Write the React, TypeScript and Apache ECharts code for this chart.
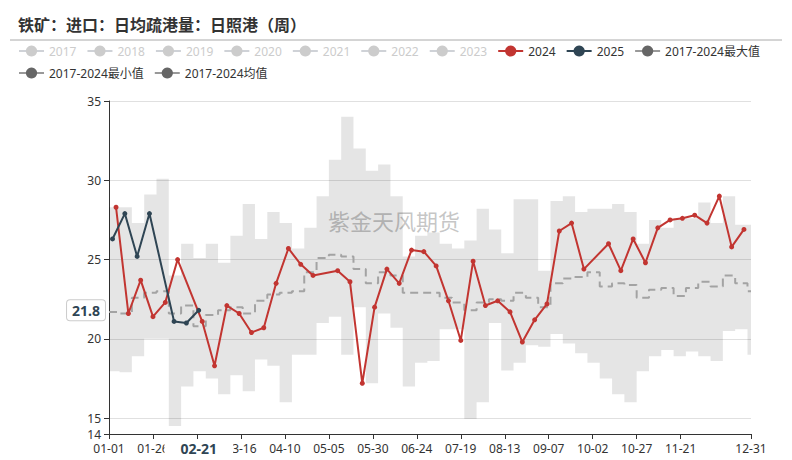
import React, { useEffect, useRef } from 'react';
import * as echarts from 'echarts';

// x-axis categories: every day of a leap year, MM-DD
const categories: string[] = [];
for (let d = 0; d < 366; d++) {
  const dt = new Date(Date.UTC(2024, 0, 1 + d));
  const mm = String(dt.getUTCMonth() + 1).padStart(2, '0');
  const dd = String(dt.getUTCDate()).padStart(2, '0');
  categories.push(`${mm}-${dd}`);
}

const hiddenYears = ['2017', '2018', '2019', '2020', '2021', '2022', '2023'];

const dates2024 = [
  '01-05', '01-12', '01-19', '01-26', '02-02', '02-09', '02-23', '03-01', '03-08', '03-15',
  '03-22', '03-29', '04-05', '04-12', '04-19', '04-26', '05-10', '05-17', '05-24', '05-31',
  '06-07', '06-14', '06-21', '06-28', '07-05', '07-12', '07-19', '07-26', '08-02', '08-09',
  '08-16', '08-23', '08-30', '09-06', '09-13', '09-20', '09-27', '10-11', '10-18', '10-25',
  '11-01', '11-08', '11-15', '11-22', '11-29', '12-06', '12-13', '12-20', '12-27',
];
const values2024 = [
  28.3, 21.6, 23.7, 21.4, 22.3, 25.0, 21.1, 18.3, 22.1, 21.6,
  20.4, 20.7, 23.5, 25.7, 24.7, 24.0, 24.3, 23.6, 17.2, 22.0,
  24.4, 23.5, 25.6, 25.5, 24.6, 22.4, 19.9, 24.9, 22.1, 22.4,
  21.7, 19.8, 21.2, 22.2, 26.8, 27.3, 24.4, 26.0, 24.3, 26.3,
  24.8, 27.0, 27.5, 27.6, 27.8, 27.3, 29.0, 25.8, 26.9,
];

const dates2025 = ['01-03', '01-10', '01-17', '01-24', '02-07', '02-14', '02-21'];
const values2025 = [26.3, 27.9, 25.2, 27.9, 21.1, 21.0, 21.8];

// 2017-2024 statistics (weekly steps)
const statDates = [
  '01-01', '01-07', '01-14', '01-21', '01-28', '02-04', '02-11', '02-18', '02-25', '03-03',
  '03-10', '03-17', '03-24', '03-31', '04-07', '04-14', '04-21', '04-28', '05-05', '05-12',
  '05-19', '05-26', '06-02', '06-09', '06-16', '06-23', '06-30', '07-07', '07-14', '07-21',
  '07-28', '08-04', '08-11', '08-18', '08-25', '09-01', '09-08', '09-15', '09-22', '09-29',
  '10-06', '10-13', '10-20', '10-27', '11-03', '11-10', '11-17', '11-24', '12-01', '12-08',
  '12-15', '12-22', '12-29', '12-31',
];
const statMax = [
  28.3, 28.3, 27.3, 29.1, 30.1, 24.0, 26.0, 25.1, 26.0, 24.8,
  26.5, 28.5, 26.3, 28.0, 27.3, 25.7, 27.0, 29.0, 31.3, 34.0,
  32.0, 30.6, 31.0, 29.0, 25.2, 26.5, 26.7, 26.0, 25.7, 26.2,
  28.2, 26.9, 25.4, 28.8, 28.8, 24.3, 28.7, 29.0, 28.0, 28.2,
  28.2, 28.5, 28.0, 26.0, 27.5, 27.0, 27.6, 27.6, 28.6, 27.3,
  29.0, 27.2, 27.2, 27.2,
];
const statMin = [
  17.95, 17.9, 18.9, 20.0, 20.0, 14.5, 17.0, 17.95, 17.5, 16.5,
  17.7, 16.7, 18.7, 18.3, 16.0, 19.0, 19.0, 21.0, 21.4, 19.0,
  22.0, 17.2, 21.6, 20.7, 17.0, 18.5, 18.6, 20.6, 20.6, 14.95,
  16.0, 21.0, 18.0, 18.5, 19.6, 19.5, 20.3, 19.7, 19.1, 18.5,
  17.5, 16.5, 16.0, 17.95, 18.9, 19.3, 18.9, 19.2, 18.9, 18.6,
  20.5, 20.6, 19.0, 19.0,
];
const statAvg = [
  21.7, 21.6, 22.6, 22.9, 23.0, 21.6, 22.1, 20.8, 21.5, 21.8,
  22.0, 21.6, 22.4, 22.8, 22.9, 23.0, 24.2, 25.1, 25.3, 25.2,
  24.4, 23.5, 24.2, 24.0, 22.9, 22.9, 22.9, 22.6, 22.3, 21.8,
  22.3, 22.5, 22.4, 22.9, 22.6, 22.0, 23.5, 23.8, 23.9, 24.2,
  23.3, 23.5, 23.4, 22.6, 23.1, 23.2, 22.7, 23.2, 23.6, 23.3,
  24.0, 23.5, 23.0, 23.0,
];

const pointerDate = '02-21';
const pointerValue = 21.8;

const NAME_MAX = '2017-2024最大值';
const NAME_MIN = '2017-2024最小值';
const NAME_AVG = '2017-2024均值';

const FONT = '"Noto Sans", "Noto Sans CJK SC", sans-serif';

function pairs(xs: string[], ys: number[]) {
  return xs.map((x, i) => [x, ys[i]]);
}

export default function App() {
  const ref = useRef<HTMLDivElement>(null);

  useEffect(() => {
    document.body.style.margin = '0';
    const chart = echarts.init(ref.current!, null, { renderer: 'svg' });

    const selected: Record<string, boolean> = {};
    hiddenYears.forEach((y) => (selected[y] = false));

    const series: any[] = [];
    hiddenYears.forEach((y) => {
      series.push({
        name: y,
        type: 'line',
        data: [],
        symbol: 'circle',
        itemStyle: { color: '#999' },
      });
    });

    series.push({
      name: NAME_MIN,
      type: 'line',
      stack: 'band',
      step: 'end',
      data: pairs(statDates, statMin),
      symbol: 'circle',
      showSymbol: false,
      itemStyle: { color: '#666' },
      lineStyle: { width: 0, opacity: 0 },
      z: 1,
      silent: true,
    });
    series.push({
      name: NAME_MAX,
      type: 'line',
      stack: 'band',
      step: 'end',
      data: pairs(statDates, statMax.map((v, i) => +(v - statMin[i]).toFixed(2))),
      symbol: 'circle',
      showSymbol: false,
      itemStyle: { color: '#666' },
      lineStyle: { width: 0, opacity: 0 },
      areaStyle: { color: 'rgba(0,0,0,0.1)', opacity: 1 },
      z: 1,
      silent: true,
    });
    series.push({
      name: NAME_AVG,
      type: 'line',
      step: 'end',
      data: pairs(statDates, statAvg),
      symbol: 'circle',
      showSymbol: false,
      itemStyle: { color: '#666' },
      lineStyle: { color: '#a3a3a3', width: 2, type: [8, 5] },
      z: 2,
      silent: true,
    });
    series.push({
      name: '2024',
      type: 'line',
      data: pairs(dates2024, values2024),
      symbol: 'circle',
      symbolSize: 5,
      showAllSymbol: true,
      itemStyle: { color: '#c23531' },
      lineStyle: { color: '#c23531', width: 2 },
      z: 3,
    });
    series.push({
      name: '2025',
      type: 'line',
      data: pairs(dates2025, values2025),
      symbol: 'circle',
      symbolSize: 5,
      showAllSymbol: true,
      itemStyle: { color: '#2f4554' },
      lineStyle: { color: '#2f4554', width: 2 },
      z: 4,
    });

    const legendData: any[] = [
      ...hiddenYears,
      '2024',
      '2025',
      { name: NAME_MAX, itemStyle: { color: '#666', opacity: 1 }, lineStyle: { color: '#999', width: 2, opacity: 1 } },
      { name: NAME_MIN, itemStyle: { color: '#666', opacity: 1 }, lineStyle: { color: '#999', width: 2, opacity: 1 } },
      { name: NAME_AVG, itemStyle: { color: '#666', opacity: 1 }, lineStyle: { color: '#999', width: 2, opacity: 1, type: 'solid' } },
    ];

    const lastIdx = categories.length - 1;
    const pointerIdx = categories.indexOf(pointerDate);
    const isTick = (index: number) => (index % 25 === 0 && index <= 325) || index === lastIdx;

    chart.setOption({
      animation: false,
      textStyle: { fontFamily: FONT },
      title: {
        text: '铁矿：进口：日均疏港量：日照港（周）',
        left: 13,
        top: 11,
        textStyle: {
          fontSize: 16,
          fontWeight: 'bold',
          color: '#333',
          fontFamily: '"Noto Sans CJK SC", serif',
        },
      },
      legend: {
        left: 13,
        top: 40,
        itemWidth: 25,
        itemHeight: 14,
        itemGap: 10,
        inactiveColor: '#ccc',
        textStyle: { color: '#333', fontSize: 12, fontFamily: FONT },
        selected,
        data: legendData,
      },
      graphic: [
        {
          type: 'line',
          shape: { x1: 10, y1: 40, x2: 782, y2: 40 },
          style: { stroke: '#aaa', lineWidth: 1 },
          silent: true,
        },
        {
          type: 'text',
          left: 328,
          top: 209,
          z: 1,
          silent: true,
          style: {
            text: '紫金天风期货',
            fontSize: 22,
            fill: 'rgba(160,160,160,0.6)',
            fontFamily: '"Noto Sans CJK SC", sans-serif',
          },
        },
      ],
      grid: { left: 109, right: 41, top: 101, bottom: 26, containLabel: false },
      xAxis: {
        type: 'category',
        data: categories,
        boundaryGap: false,
        axisLine: { lineStyle: { color: '#333' } },
        axisTick: { show: true, length: 5, interval: (index: number) => isTick(index) },
        axisLabel: {
          color: '#333',
          fontSize: 12,
          margin: 8,
          interval: (index: number) => isTick(index) && Math.abs(index - pointerIdx) > 3,
        },
        splitLine: { show: false },
        axisPointer: {
          show: true,
          status: 'show',
          value: pointerIdx,
          snap: false,
          triggerTooltip: false,
          lineStyle: { color: 'rgba(0,0,0,0)', width: 0 },
          label: {
            show: true,
            backgroundColor: '#fff',
            color: '#2f4554',
            fontWeight: 'bold',
            fontSize: 14,
            padding: [2, 16, 2, 16],
            margin: 5,
            fontFamily: FONT,
          },
        },
      },
      yAxis: {
        type: 'value',
        min: 14,
        max: 35,
        axisLine: { show: true, lineStyle: { color: '#333' } },
        axisTick: { show: true, length: 5 },
        axisLabel: { color: '#333', fontSize: 12, margin: 8 },
        splitLine: { show: true, lineStyle: { color: '#e0e0e0' } },
        axisPointer: {
          show: true,
          status: 'show',
          value: pointerValue,
          snap: false,
          triggerTooltip: false,
          lineStyle: { color: 'rgba(0,0,0,0)', width: 0 },
          label: {
            show: true,
            precision: 1,
            backgroundColor: '#fff',
            borderColor: '#ccc',
            borderWidth: 1,
            color: '#2f4554',
            fontWeight: 'bold',
            fontSize: 14,
            padding: [3, 5, 3, 5],
            margin: 4,
            fontFamily: FONT,
          },
        },
      },
      series,
    });

    return () => chart.dispose();
  }, []);

  return <div ref={ref} style={{ width: 792, height: 460 }} />;
}
